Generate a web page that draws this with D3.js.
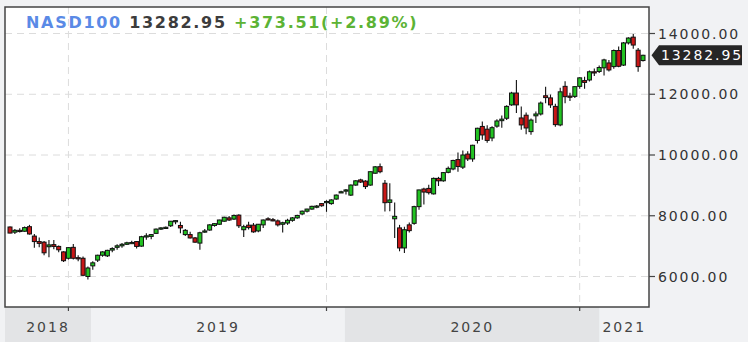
<!DOCTYPE html>
<html>
<head>
<meta charset="utf-8">
<script src="https://cdn.jsdelivr.net/npm/d3@7"></script>
<style>
  body { margin: 0; background: #f1f2f4; }
  svg { display: block; }
  text { font-family: 'DejaVu Sans', sans-serif; }
</style>
</head>
<body>
<svg id="chart" width="748" height="342"></svg>
<script>
let symbol = 'NASD100'
// weekly candles, week of Sep 3 2018 .. week of Mar 1 2021
let weeks = d3.timeMonday.range(new Date(2018, 8, 3), new Date(2021, 2, 2))
let open = [7630, 7460, 7520, 7490, 7640, 7330, 7150, 7130, 6980, 7050, 6990, 6810, 6600, 6960, 6620, 6600, 6000,
  6350, 6540, 6700, 6680, 6870, 6960, 7010, 7060, 7110, 7150, 7000, 7300, 7320, 7420, 7560, 7610, 7670, 7810, 7680,
  7380, 7380, 7270, 7100, 7470, 7530, 7680, 7720, 7820, 7930, 7890, 8020, 7540, 7690, 7690, 7500, 7700, 7900, 7870,
  7830, 7720, 7760, 7850, 7930, 8060, 8150, 8220, 8300, 8400, 8430, 8400, 8550, 8770, 8820, 8680, 9010, 9180, 9140,
  9010, 9400, 9615, 9070, 8440, 7900, 7600, 6940, 7700, 7750, 8300, 8880, 8900, 8720, 9230, 9150, 9430, 9540, 9850,
  9600, 10030, 9870, 10480, 10940, 10850, 10560, 10950, 11130, 11210, 11650, 12040, 11220, 11310, 10770, 11290, 11350,
  11950, 11880, 11600, 10990, 12260, 11940, 11930, 12260, 12450, 12470, 12740, 12750, 12870, 13030, 12910, 13440,
  12960, 13690, 13880, 13450, 13110]
let high = [7650, 7560, 7590, 7650, 7700, 7400, 7280, 7170, 7200, 7200, 7020, 6830, 6960, 7070, 6700, 6660, 6330,
  6500, 6720, 6830, 6880, 6960, 7060, 7100, 7140, 7180, 7170, 7340, 7420, 7400, 7580, 7620, 7650, 7830, 7860, 7800,
  7560, 7470, 7300, 7470, 7560, 7720, 7760, 7870, 7970, 7990, 8040, 8050, 7700, 7800, 7760, 7730, 7880, 7950, 7930,
  7880, 7800, 7900, 7960, 8030, 8170, 8230, 8330, 8350, 8420, 8510, 8540, 8700, 8820, 8880, 9030, 9170, 9220, 9170,
  9460, 9640, 9720, 9180, 9070, 8440, 7700, 7640, 7780, 8330, 8860, 8920, 9020, 9260, 9280, 9440, 9620, 9840, 10080,
  10150, 10120, 10340, 10900, 11100, 10980, 10950, 11180, 11300, 11640, 12080, 12470, 11600, 11400, 11200, 11430, 11760,
  12250, 11990, 11690, 12210, 12430, 12050, 12260, 12560, 12580, 12780, 12850, 12950, 13170, 13130, 13470, 13570,
  13720, 13880, 13980, 13520, 13300]
let low = [7420, 7400, 7450, 7470, 7380, 6950, 6960, 6700, 6630, 6900, 6800, 6480, 6560, 6560, 6500, 6020, 5900,
  6220, 6480, 6650, 6640, 6800, 6880, 6950, 7040, 7070, 6920, 6980, 7210, 7230, 7400, 7530, 7560, 7630, 7720, 7420,
  7330, 7250, 7110, 6880, 7440, 7510, 7640, 7700, 7800, 7830, 7860, 7600, 7300, 7550, 7440, 7460, 7600, 7850, 7820,
  7650, 7450, 7700, 7800, 7900, 8020, 8110, 8200, 8250, 8300, 8130, 8360, 8530, 8760, 8700, 8650, 8990, 9080, 8880,
  8990, 9380, 9400, 8140, 8150, 7270, 6830, 6770, 7450, 7700, 8200, 8370, 8700, 8700, 8980, 9120, 9400, 9500, 9450,
  9540, 9800, 9780, 10380, 10500, 10400, 10450, 10900, 10900, 11150, 11620, 11380, 10830, 10680, 10670, 11050, 11300,
  11700, 11550, 10930, 10950, 11700, 11780, 11880, 12180, 12180, 12420, 12600, 12700, 12620, 12750, 12840, 12890,
  12930, 13640, 13500, 12740, 13080]
let close = [7430, 7520, 7490, 7610, 7400, 7150, 7090, 6780, 7040, 6990, 6880, 6520, 6950, 6600, 6590, 6040, 6280,
  6450, 6700, 6810, 6860, 6920, 7010, 7060, 7110, 7120, 6990, 7310, 7340, 7380, 7560, 7600, 7620, 7820, 7840, 7600,
  7520, 7270, 7130, 7440, 7500, 7700, 7740, 7860, 7950, 7860, 8010, 7670, 7640, 7610, 7470, 7720, 7860, 7880, 7860,
  7700, 7770, 7850, 7930, 8010, 8150, 8220, 8310, 8320, 8330, 8470, 8520, 8680, 8790, 8850, 9010, 9150, 9110, 8960,
  9450, 9610, 9450, 8430, 8520, 7980, 6940, 7540, 7510, 8300, 8850, 8780, 8760, 9230, 9150, 9420, 9560, 9820, 9620,
  10000, 9870, 10320, 10880, 10660, 10480, 10900, 11120, 11180, 11600, 12040, 11650, 10990, 10890, 11150, 11350, 11710,
  11890, 11650, 11000, 12080, 11920, 11900, 12250, 12540, 12390, 12740, 12700, 12880, 13130, 12800, 13440, 12920,
  13690, 13850, 13620, 12909.44, 13282.95]
let priceTicks = [6000, 8000, 10000, 12000, 14000]
let years = [2018, 2019, 2020, 2021]
let gridWeeks = [new Date(2018, 10, 26), new Date(2019, 11, 2), new Date(2020, 10, 30)]

let svg = d3.select('#chart')
let plotL = 5, plotR = 649, plotT = 7, plotB = 307

let mid = d => d3.timeHour.offset(d, 84)
let x = d3.scaleTime()
  .domain([new Date(2018, 8, 6, 12), new Date(2021, 2, 4, 12)])
  .range([10, 643])
let y = d3.scaleLinear().domain([6000, 14000]).range([276.5, 33.5])

// year bands under the plot
let bandEdges = [x.invert(plotL)].concat(years.slice(1).map(yr => new Date(yr, 0, 1)), [x.invert(plotR)])
years.forEach((yr, i) => {
  let x0 = x(bandEdges[i]), x1 = x(bandEdges[i + 1])
  svg.append('rect')
    .attr('x', x0).attr('y', plotB).attr('width', x1 - x0).attr('height', 342 - plotB)
    .attr('fill', i % 2 === 0 ? '#e3e4e6' : '#f1f2f4')
  svg.append('text')
    .attr('x', (x0 + x1) / 2).attr('y', 332)
    .attr('text-anchor', 'middle')
    .style('font-size', '14px').style('letter-spacing', '2px')
    .style('fill', '#444')
    .text(yr)
})

svg.append('rect')
  .attr('x', plotL).attr('y', plotT).attr('width', plotR - plotL).attr('height', plotB - plotT)
  .attr('fill', '#fff')

// grid
svg.append('g').selectAll('line').data(priceTicks).enter().append('line')
  .attr('x1', plotL).attr('x2', plotR)
  .attr('y1', d => y(d)).attr('y2', d => y(d))
  .attr('stroke', '#dcdcdc').attr('stroke-dasharray', '7,5')
svg.append('g').selectAll('line').data(gridWeeks).enter().append('line')
  .attr('x1', d => x(mid(d))).attr('x2', d => x(mid(d)))
  .attr('y1', plotT).attr('y2', plotB)
  .attr('stroke', '#dcdcdc').attr('stroke-dasharray', '7,5')

// candles
let candles = svg.append('g')
weeks.forEach((d, i) => {
  let cx = x(mid(d))
  let up = close[i] >= open[i]
  candles.append('line')
    .attr('x1', cx).attr('x2', cx)
    .attr('y1', y(high[i])).attr('y2', y(low[i]))
    .attr('stroke', '#111').attr('stroke-width', 1.1)
  let yt = y(Math.max(open[i], close[i])), yb = y(Math.min(open[i], close[i]))
  candles.append('rect')
    .attr('x', cx - 2).attr('width', 4)
    .attr('y', yt).attr('height', Math.max(yb - yt, 1.2))
    .attr('fill', up ? '#22c322' : '#c81616')
    .attr('stroke', '#111').attr('stroke-width', 1)
})

// frame
svg.append('rect')
  .attr('x', plotL).attr('y', plotT).attr('width', plotR - plotL).attr('height', plotB - plotT)
  .attr('fill', 'none').attr('stroke', '#444').attr('stroke-width', 1.5)

// right axis
let axisG = svg.append('g')
priceTicks.forEach(v => {
  axisG.append('line')
    .attr('x1', plotR).attr('x2', plotR + 6).attr('y1', y(v)).attr('y2', y(v))
    .attr('stroke', '#444').attr('stroke-width', 1.2)
  axisG.append('text')
    .attr('x', 658).attr('y', y(v)).attr('dy', '0.36em')
    .style('font-size', '14px').style('letter-spacing', '1.9px')
    .style('fill', '#333')
    .text(d3.format('.2f')(v))
})
gridWeeks.forEach(d => {
  axisG.append('line')
    .attr('x1', x(mid(d))).attr('x2', x(mid(d))).attr('y1', plotB).attr('y2', plotB + 4)
    .attr('stroke', '#444').attr('stroke-width', 1.2)
})

// last price marker
let last = close[close.length - 1]
let prev = close[close.length - 2]
let ly = y(last)
svg.append('path')
  .attr('d', `M651.5,${ly} L659,${ly - 10} L742,${ly - 10} L742,${ly + 10} L659,${ly + 10} Z`)
  .attr('fill', '#262626')
svg.append('text')
  .attr('x', 661).attr('y', ly).attr('dy', '0.36em')
  .style('font-size', '14px').style('letter-spacing', '1.9px')
  .style('fill', '#fff')
  .text(d3.format('.2f')(last))

// header
let chg = last - prev
let header = svg.append('text')
  .attr('x', 26).attr('y', 28)
  .style('font-size', '16px').style('font-weight', 'bold').style('letter-spacing', '1.7px')
header.append('tspan').style('fill', '#5a8ae6').text(symbol)
header.append('tspan').style('fill', '#3c3c3c').text(' ' + d3.format('.2f')(last))
header.append('tspan').style('fill', '#5cb335')
  .text(' ' + d3.format('+.2f')(chg) + '(' + d3.format('+.2f')(chg / prev * 100) + '%)')
</script>
</body>
</html>
